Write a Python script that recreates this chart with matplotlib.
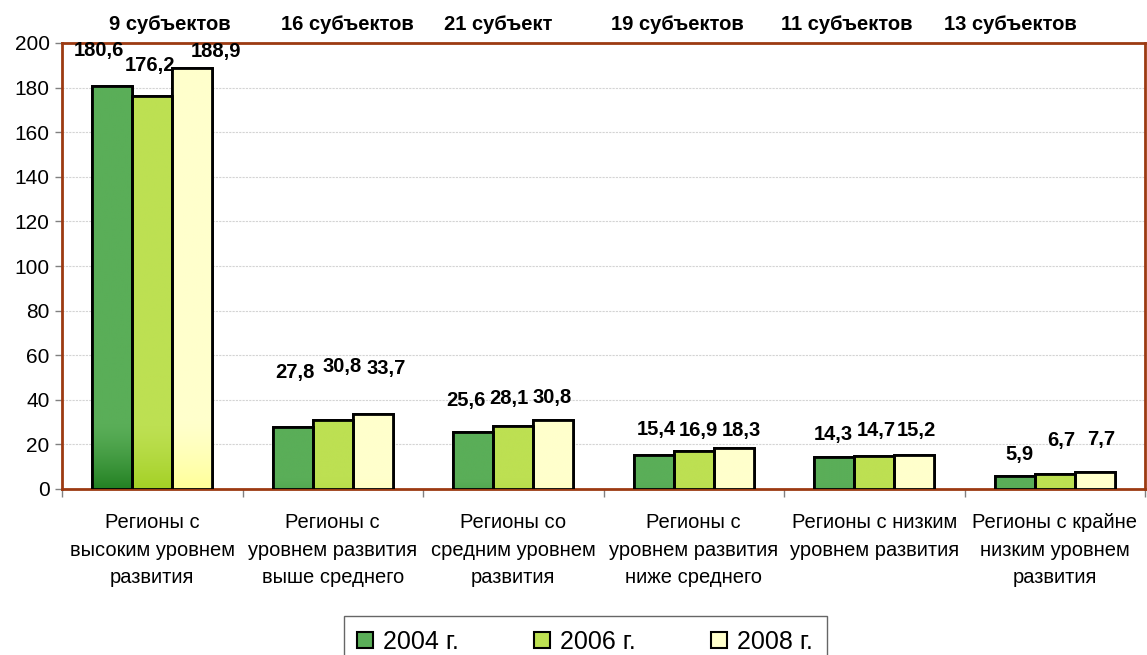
import numpy as np
import matplotlib
matplotlib.use("Agg")
import matplotlib.pyplot as plt
from matplotlib.patches import Patch
from matplotlib.colors import to_rgb

plt.rcParams['font.family'] = ['Liberation Sans', 'DejaVu Sans']

categories = ["Регионы с\nвысоким уровнем\nразвития",
              "Регионы с\nуровнем развития\nвыше среднего",
              "Регионы со\nсредним уровнем\nразвития",
              "Регионы с\nуровнем развития\nниже среднего",
              "Регионы с низким\nуровнем развития",
              "Регионы с крайне\nнизким уровнем\nразвития"]
series_names = ["2004 г.", "2006 г.", "2008 г."]
v2004 = [180.6, 27.8, 25.6, 15.4, 14.3, 5.9]
v2006 = [176.2, 30.8, 28.1, 16.9, 14.7, 6.7]
v2008 = [188.9, 33.7, 30.8, 18.3, 15.2, 7.7]
group_counts = ["9 субъектов", "16 субъектов", "21 субъект",
                "19 субъектов", "11 субъектов", "13 субъектов"]

# style
top_cols = ["#5aae58", "#bde052", "#ffffcc"]
bot_cols = ["#217f21", "#a2cf22", "#ffff99"]
spine_col = "#9c3a12"
# label pixel offsets (dx, dy) from bar top centre, per series x group
lab_dx = [[-13, 2, -7, 3, -1, 5], [-2, 9, -4, 5, 2, 7], [24, 13, -1, 8, 2, 6]]
lab_dy = [[36, 55, 31, 25, 23, 21], [31, 54, 28, 21, 26, 34], [16, 45, 23, 18, 25, 32]]
count_x_px = [170, 347, 498, 677, 847, 1010]

W, H = 1147, 655
fig = plt.figure(figsize=(W / 100, H / 100), dpi=100)
ax = fig.add_axes([62 / W, 1 - 489 / H, (1145 - 62) / W, (489 - 43) / H])

n = len(categories)
x = np.arange(n)
bw = 0.222
series = [v2004, v2006, v2008]
vmax = max(max(s) for s in series)

for i, vals in enumerate(series):
    xs = x + (i - 1) * bw
    bars = ax.bar(xs, vals, width=bw, color=top_cols[i], edgecolor='black',
                  linewidth=2, zorder=3)
    c1 = np.array(to_rgb(top_cols[i]))
    c2 = np.array(to_rgb(bot_cols[i]))
    for j, (b, v) in enumerate(zip(bars, vals)):
        t = np.linspace(0, 1, 400)[:, None]  # 0 top -> 1 bottom
        strength = v / vmax
        w = np.clip((t - 0.84) / 0.16, 0, 1) ** 1.3 * strength
        img = (c1[None, :] * (1 - w) + c2[None, :] * w)[:, None, :]
        im = ax.imshow(img, extent=[b.get_x(), b.get_x() + b.get_width(), 0, v],
                       aspect='auto', zorder=3.1, interpolation='bilinear')
        im.set_clip_path(b)
        ax.bar(b.get_x() + b.get_width() / 2, v, width=bw, facecolor='none',
               edgecolor='black', linewidth=2, zorder=3.2)
        ax.annotate(f"{v:.1f}".replace('.', ','), (b.get_x() + b.get_width() / 2, v),
                    xytext=(lab_dx[i][j], lab_dy[i][j]), textcoords='offset pixels',
                    ha='center', va='center', fontsize=14.5, fontweight='bold', zorder=5)

ax.set_aspect('auto')
ax.set_xlim(-0.5, n - 0.5)
ax.set_ylim(0, 200)

ax.set_yticks(np.arange(0, 201, 20))
ax.tick_params(axis='y', labelsize=15, length=5, width=1, color='#808080', direction='out', pad=4)
ax.set_xticks(x)
ax.set_xticklabels(categories, fontsize=14.5, linespacing=1.55)
ax.tick_params(axis='x', length=0, pad=17.5)
ax.set_xticks(np.arange(-0.5, n, 1), minor=True)
ax.tick_params(axis='x', which='minor', length=6, width=1, color='#808080', direction='out')

for yv in range(20, 200, 20):
    ax.axhline(yv, color='#d4d4d4', linewidth=0.8, linestyle=(0, (2, 1)), zorder=1)

for s in ax.spines.values():
    s.set_color(spine_col)
    s.set_linewidth(2)

for txt, px in zip(group_counts, count_x_px):
    fig.text(px / W, 1 - 25 / H, txt, ha='center', va='center', fontsize=14.5, fontweight='bold')

handles = [Patch(facecolor=c, edgecolor='black', linewidth=1.5) for c in top_cols]
leg = fig.legend(handles, series_names, loc='upper center', bbox_to_anchor=(585 / W, 1 - 616 / H),
                 ncol=3, fontsize=18, frameon=True, fancybox=False, handlelength=0.64,
                 handleheight=0.64, handletextpad=0.4, columnspacing=3.0,
                 borderpad=0.55, borderaxespad=0)
leg.get_frame().set_edgecolor('#404040')
leg.get_frame().set_linewidth(1)

fig.savefig("out.png", dpi=100)
